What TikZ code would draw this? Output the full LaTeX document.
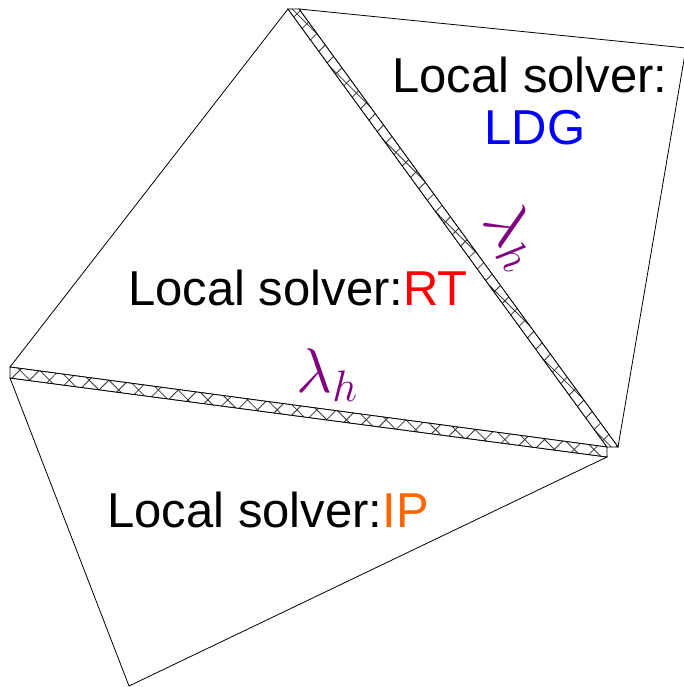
\RequirePackage{fix-cm}
\documentclass[tikz,border=0pt]{standalone}
\usepackage{fontspec}
\setmainfont{Liberation Sans}
\usetikzlibrary{patterns.meta}
\definecolor{lampurple}{RGB}{128,0,128}
\definecolor{iporange}{RGB}{255,102,0}
\tikzset{
  tri/.style={draw=black, line width=0.8pt, line join=miter},
  hatchA/.style={pattern={Lines[angle=45,distance=14pt,line width=0.8pt]}, pattern color=black!80},
  hatchB/.style={pattern={Lines[angle=-45,distance=14pt,line width=0.8pt]}, pattern color=black!80},
  solver/.style={font=\fontsize{49}{59}\selectfont, inner sep=0pt, anchor=base},
  lam/.style={text=lampurple, font=\fontsize{63}{76}\selectfont, inner sep=0pt},
}
\begin{document}
\begin{tikzpicture}[x=1pt,y=-1pt]
\useasboundingbox (0,0) rectangle (684,687);
\clip (0,0) rectangle (684,687);
% vertices
\coordinate (A) at (10,367);
\coordinate (B) at (288,9);
\coordinate (C) at (607,447);
\coordinate (B2) at (299,9);
\coordinate (D) at (686,48);
\coordinate (C2) at (618,447);
\coordinate (A2) at (10,378);
\coordinate (C3) at (607,457);
\coordinate (E) at (129,686);
% triangles
\draw[tri] (A) -- (B) -- (C) -- cycle;
\draw[tri] (B2) -- (D) -- (C2) -- cycle;
\draw[tri] (A2) -- (C3) -- (E) -- cycle;
% horizontal strip
\fill[white] (A) -- (C) -- (C3) -- (A2) -- cycle;
\fill[hatchA] (A) -- (C) -- (C3) -- (A2) -- cycle;
\fill[hatchB] (A) -- (C) -- (C3) -- (A2) -- cycle;
\draw[tri] (A) -- (C) -- (C3) -- (A2) -- cycle;
% diagonal strip
\fill[white] (B) -- (B2) -- (C2) -- (C) -- cycle;
\fill[hatchA] (B) -- (B2) -- (C2) -- (C) -- cycle;
\fill[hatchB] (B) -- (B2) -- (C2) -- (C) -- cycle;
\draw[tri] (B) -- (B2) -- (C2) -- (C) -- cycle;
% labels
\node[solver] (ldgA) at (530,93) {Local solver:};
\node[solver, text=blue] (ldgB) at (535,145) {LDG};
\node[solver] (rt) at (298,305) {Local solver:\textcolor{red}{RT}};
\node[solver] (ip) at (268,527) {Local solver:\textcolor{iporange}{IP}};
\node[lam] (lam1) at (327,375) {$\lambda_h$};
\node[lam, rotate=-54] (lam2) at (513,236) {$\lambda_h$};
\end{tikzpicture}
\end{document}
